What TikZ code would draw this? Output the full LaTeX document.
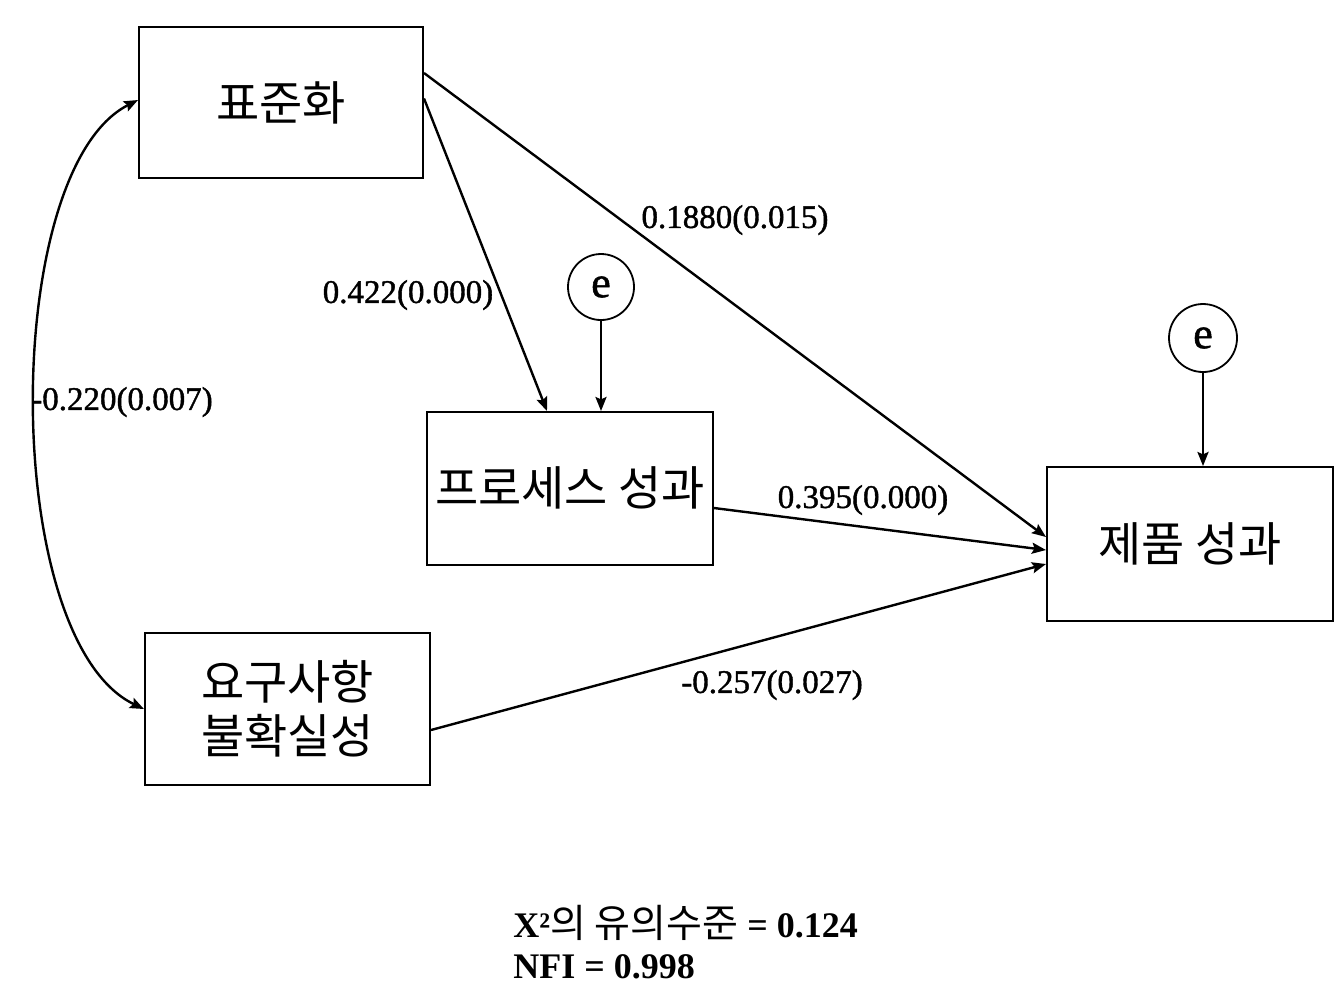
\documentclass[tikz,border=0pt]{standalone}
\usepackage{fontspec}
\setmainfont{Liberation Serif}
\newfontfamily\kr{Noto Sans CJK KR}
\newfontfamily\labfont[FakeBold=1.2]{Liberation Serif}
\usetikzlibrary{arrows.meta,calc}
\tikzset{
  box/.style={draw, line width=1pt, rectangle, inner sep=0pt, font=\kr\fontsize{23.5}{27}\selectfont, align=center},
  errc/.style={draw, line width=0.9pt, circle, minimum size=33pt, inner sep=0pt, font=\labfont\fontsize{22}{24}\selectfont},
  tip/.tip={Stealth[length=7pt,width=5.5pt,inset=1.2pt]},
  arr/.style={line width=1.2pt, -tip},
  lab/.style={font=\labfont\fontsize{16.5}{18}\selectfont, inner sep=0pt},
  stat/.style={font=\bfseries\fontsize{18}{20}\selectfont, inner sep=0pt, anchor=base west}
}
\begin{document}
\begin{tikzpicture}[x=0.5pt,y=-0.5pt]
\useasboundingbox[fill=white] (0,0) rectangle (1342,987);
% boxes
\node[box, minimum width=142pt, minimum height=75.5pt] (std) at (281,102.5) {표준화};
\node[box, minimum width=142.5pt, minimum height=76pt] (req) at (287.5,709) {요구사항\\불확실성};
\node[box, minimum width=143pt, minimum height=76.5pt] (proc) at (570,488.5) {\raisebox{2pt}{프로세스 성과}};
\node[box, minimum width=143pt, minimum height=77pt] (prod) at (1190,544) {제품 성과};
\node[errc] (e1) at (601,287) {e};
\node[errc, minimum size=34pt] (e2) at (1203,338) {e};
% connectors
\draw[arr] ($(std.east)+(0,-29.5)$) -- ($(prod.west)+(0,-7)$);
\draw[arr] ($(std.east)+(0,-4)$) -- ($(proc.north)+(-23,0)$);
\draw[arr] (e1.south) -- (e1.south |- proc.north);
\draw[arr] ($(proc.east)+(0,19.5)$) -- ($(prod.west)+(0,6)$);
\draw[arr] ($(req.east)+(0,21)$) -- ($(prod.west)+(0,20)$);
\draw[arr] (e2.south) -- (e2.south |- prod.north);
\draw[line width=1.2pt, tip-tip]
  ($(std.west)+(0,-2.5)$) .. controls (0,170) and (0,640) .. (req.west);
% labels
\node[lab] (l1) at (735,220) {0.1880(0.015)};
\node[lab] (l2) at (408,295) {0.422(0.000)};
\node[lab] (l3) at (122,402) {-0.220(0.007)};
\node[lab] (l4) at (863,500) {0.395(0.000)};
\node[lab] (l5) at (772,685) {-0.257(0.027)};
% statistics
\node[stat] (s1) at (513,937) {X²{\kr\mdseries\fontsize{19.5}{20}\selectfont 의 유의수준} = 0.124};
\node[stat] (s2) at (513,978) {NFI = 0.998};
\end{tikzpicture}
\end{document}
